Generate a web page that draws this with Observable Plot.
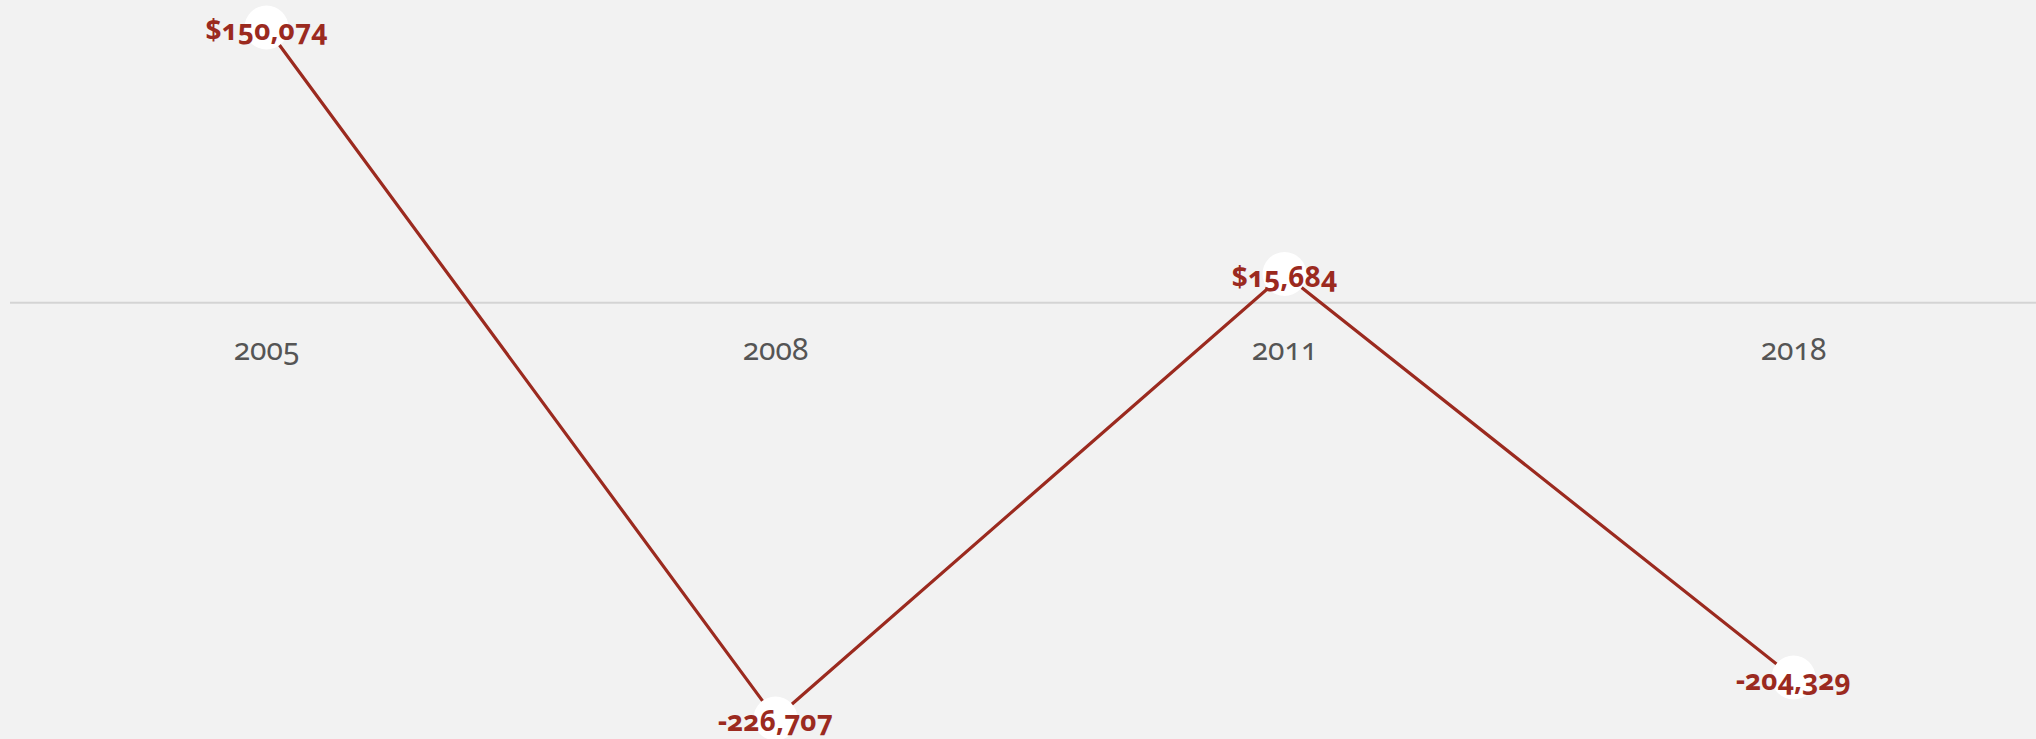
<!DOCTYPE html>
<html>
<head>
<meta charset="utf-8">
<script src="https://cdn.jsdelivr.net/npm/d3@7"></script>
<script src="https://cdn.jsdelivr.net/npm/@observablehq/plot@0.6"></script>
<style>
  html, body { margin: 0; padding: 0; background: #f2f2f2; overflow: hidden; }
  svg text { font-variant-numeric: oldstyle-nums; }
</style>
</head>
<body>
<div id="chart"></div>
<script>
const years = ["2005", "2008", "2011", "2018"];
const values = [150074, -226707, 15684, -204329];
const valueLabels = ["$150,074", "-226,707", "$15,684", "-204,329"];

const data = years.map((year, i) => ({ year, value: values[i], label: valueLabels[i] }));

const red = "#9b2a1f";

const chart = Plot.plot({
  width: 2036,
  height: 739,
  marginLeft: 10,
  marginRight: 0,
  marginTop: 27,
  marginBottom: 21,
  style: { background: "#f2f2f2", fontFamily: "'Noto Sans', sans-serif" },
  x: { type: "point", domain: years, range: [265, 1794], padding: 0, axis: null },
  y: { domain: [d3.min(values), d3.max(values)], axis: null },
  marks: [
    Plot.ruleY([0], { stroke: "#d4d4d4", strokeWidth: 2 }),
    Plot.text(years, { x: d => d, y: () => 0, dy: 48, text: d => d, fill: "#555555", fontSize: 30 }),
    Plot.line(data, { x: "year", y: "value", stroke: red, strokeWidth: 3.2 }),
    Plot.dot(data, { x: "year", y: "value", r: 22, fill: "white", stroke: "none" }),
    Plot.text(data, { x: "year", y: "value", text: "label", fill: red, fontSize: 28, fontWeight: "bold", dy: 4 })
  ]
});
document.getElementById("chart").appendChild(chart);
</script>
</body>
</html>
